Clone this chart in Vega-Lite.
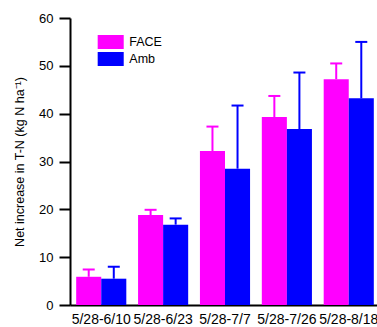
{
  "$schema": "https://vega.github.io/schema/vega-lite/v6.json",
  "autosize": "none",
  "width": 310,
  "height": 287,
  "padding": {"left": 70, "top": 18, "right": 0, "bottom": 22},
  "background": "white",
  "config": {
    "view": {"stroke": null},
    "font": "Liberation Sans",
    "axis": {"domainColor": "black", "tickColor": "black", "labelColor": "black", "titleColor": "black", "grid": false, "labelFont": "Liberation Sans", "titleFont": "Liberation Sans"}
  },
  "data": {
    "values": [
      {"period": "5/28-6/10", "trt": "FACE", "value": 5.9, "upper": 7.4},
      {"period": "5/28-6/10", "trt": "Amb", "value": 5.5, "upper": 8.0},
      {"period": "5/28-6/23", "trt": "FACE", "value": 18.8, "upper": 19.9},
      {"period": "5/28-6/23", "trt": "Amb", "value": 16.8, "upper": 18.1},
      {"period": "5/28-7/7", "trt": "FACE", "value": 32.2, "upper": 37.3},
      {"period": "5/28-7/7", "trt": "Amb", "value": 28.5, "upper": 41.7},
      {"period": "5/28-7/26", "trt": "FACE", "value": 39.3, "upper": 43.7},
      {"period": "5/28-7/26", "trt": "Amb", "value": 36.8, "upper": 48.6},
      {"period": "5/28-8/18", "trt": "FACE", "value": 47.2, "upper": 50.5},
      {"period": "5/28-8/18", "trt": "Amb", "value": 43.2, "upper": 55.0}
    ]
  },
  "encoding": {
    "x": {
      "field": "period", "type": "nominal", "sort": null,
      "scale": {"paddingInner": 0.19, "paddingOuter": 0.1},
      "axis": {"title": null, "labelAngle": 0, "ticks": false, "domainWidth": 2, "labelFontSize": 14, "labelPadding": 7, "labelOverlap": false, "labelBound": false, "labelFlush": false}
    },
    "xOffset": {"field": "trt", "type": "nominal", "sort": ["FACE", "Amb"], "scale": {"paddingInner": 0, "paddingOuter": 0}},
    "color": {
      "field": "trt", "type": "nominal", "sort": ["FACE", "Amb"],
      "scale": {"domain": ["FACE", "Amb"], "range": ["#FF00FF", "#0000FF"]},
      "legend": {"title": null, "orient": "none", "legendX": 33.7, "legendY": 17, "symbolType": "M-1.86,-1H1.86V1H-1.86Z", "symbolSize": 196, "symbolStrokeWidth": 0, "symbolOpacity": 1, "labelFontSize": 12.5, "labelColor": "black", "rowPadding": 3, "labelOffset": 11.6}
    }
  },
  "layer": [
    {
      "mark": {"type": "rule", "strokeWidth": 2},
      "encoding": {
        "y": {"field": "value", "type": "quantitative"},
        "y2": {"field": "upper"}
      }
    },
    {
      "mark": {"type": "tick", "size": 12, "thickness": 2, "orient": "horizontal", "opacity": 1},
      "encoding": {"y": {"field": "upper", "type": "quantitative"}}
    },
    {
      "mark": {"type": "bar", "opacity": 1},
      "encoding": {
        "y": {
          "field": "value", "type": "quantitative",
          "scale": {"domain": [0, 60], "nice": false},
          "axis": {"title": "Net increase in T-N (kg N ha⁻¹)", "values": [0, 10, 20, 30, 40, 50, 60], "tickSize": 11, "tickWidth": 2, "domainWidth": 2, "labelFontSize": 13, "labelPadding": 6, "titleFontSize": 12.5, "titleFontWeight": "normal", "titlePadding": 12}
        }
      }
    }
  ]
}
